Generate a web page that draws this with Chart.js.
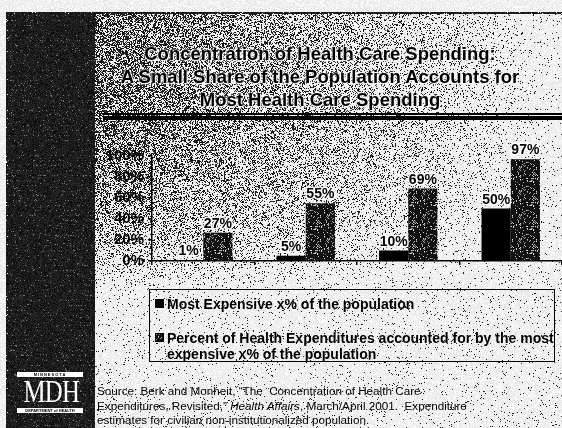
<!DOCTYPE html>
<html>
<head>
<meta charset="utf-8">
<script src="https://cdn.jsdelivr.net/npm/chart.js@4.4.1/dist/chart.umd.min.js"></script>
<style>
  html, body { margin: 0; padding: 0; background: #fff; }
  #slide { position: relative; width: 562px; height: 428px; overflow: hidden;
           font-family: Arial, "Liberation Sans", sans-serif; color: #000; }
  #bg { position: absolute; left: 0; top: 0; }
  #title { position: absolute; left: 105px; width: 430px; top: 42px; text-align: center;
           font-weight: bold; font-size: 18.5px; line-height: 23px;
           text-shadow: 0 0 2px #fff, 0 0 3px #fff, 1px 1px 1px #fff; }
  .rule { position: absolute; left: 103px; right: 0; background: #000; }
  #chartBox { position: absolute; left: 92px; top: 140px; }
  #legend { position: absolute; left: 149px; top: 289px; width: 404px; height: 71px;
            border: 1px solid #000; }
  .item { position: absolute; left: 17px; width: 392px; font-weight: bold; font-size: 14px; line-height: 16px; }
  .swatch { position: absolute; left: -12px; top: 3px; width: 9px; height: 9px; }
  #source { position: absolute; left: 97px; top: 384px; font-size: 11.7px; line-height: 14.5px; }
  #logo { position: absolute; left: 17px; top: 372px; width: 66px; color: #fff; text-align: center; }
  .band { background: #fff; color: #000; font-size: 4px; font-weight: bold; line-height: 5px;
          letter-spacing: 1px; height: 5px; overflow: hidden; }
  #mdh { font-family: "Liberation Serif", "DejaVu Serif", serif; font-size: 31px; line-height: 28px;
         letter-spacing: -1px; transform: scaleX(0.8); margin: 1px 0 2px; }
</style>
</head>
<body>
<div id="slide">
  <canvas id="bg" width="562" height="428"></canvas>
  <div id="title">Concentration of Health Care Spending:<br>A Small Share of the Population Accounts for<br>Most Health Care Spending</div>
  <div class="rule" style="top:113px;height:1.5px"></div>
  <div class="rule" style="top:116px;height:4px"></div>
  <div id="chartBox"><canvas id="spendChart" width="470" height="134"></canvas></div>
  <div id="legend"></div>
  <div id="source">Source: Berk and Monheit, “The&nbsp; Concentration of Health Care<br>Expenditures, Revisited,” <i>Health Affairs</i>, March/April 2001.&nbsp; Expenditure<br>estimates for civilian non-institutionalized population.</div>
  <div id="logo">
    <div class="band">MINNESOTA</div>
    <div id="mdh">MDH</div>
    <div class="band" style="letter-spacing:0">DEPARTMENT of HEALTH</div>
  </div>
</div>
<script>
// population groups, ranked by spending
const groups = ['Top 1%', 'Top 5%', 'Top 10%', 'Top 50%'];
// share of the population in each group (%)
const populationShare = [1, 5, 10, 50];
// share of all health spending accounted for by that group (%)
const spendingShare = [27, 55, 69, 97];
const seriesNames = [
  'Most Expensive x% of the population',
  'Percent of Health Expenditures accounted for by the most expensive x% of the population'
];
const yMax = 100;
const yStep = 20;

// tiny xorshift so the photocopy grain is the same on every load
let seed = 2463534242;
function grain() {
  seed ^= seed << 13; seed ^= seed >>> 17; seed ^= seed << 5;
  return (seed >>> 0) / 4294967296;
}

// slide background: dark side bar, grey wash from the top left, speckle everywhere
(function drawBackground() {
  const g = document.getElementById('bg').getContext('2d');
  const W = 562, H = 428;
  const img = g.createImageData(W, H);
  for (let y = 0; y < H; y++) {
    for (let x = 0; x < W; x++) {
      let d;
      let lightMax = 255;
      if (y < 12 || x < 6) d = 0;
      else if (y < 14 || x < 8) d = 0.97;
      else if (x < 95) {
        // side bar: near black with faint horizontal streaks
        d = ((y * 7) % 5) === 0 ? 0.9 : 0.98;
        lightMax = 130;
      } else {
        const u = (x - 95) / 470, v = Math.min(1, (y - 12) / 285);
        d = Math.max(0.035, 0.6 * Math.max(0, 1 - u) * (1 - v * v * v));
      }
      const dark = grain() < d;
      const c = dark ? 8 + grain() * 40 : lightMax - 30 + grain() * 30;
      const i = (y * W + x) * 4;
      img.data[i] = img.data[i + 1] = img.data[i + 2] = c;
      img.data[i + 3] = 255;
    }
  }
  g.putImageData(img, 0, 0);
})();

// speckled fill for the spending bars
function speckle(size) {
  const p = document.createElement('canvas');
  p.width = p.height = size;
  const c = p.getContext('2d');
  c.fillStyle = '#111';
  c.fillRect(0, 0, size, size);
  for (let y = 0; y < size; y++) {
    for (let x = 0; x < size; x++) {
      if (grain() < 0.14) {
        const v = Math.round(120 + grain() * 110);
        c.fillStyle = 'rgb(' + v + ',' + v + ',' + v + ')';
        c.fillRect(x, y, 1, 1);
      }
    }
  }
  return p;
}
const speckleTile = speckle(24);
const ctx = document.getElementById('spendChart').getContext('2d');
const spendFill = ctx.createPattern(speckleTile, 'repeat');

const FONT = 'Arial, "Liberation Sans", sans-serif';

// percent label above each bar
const valueLabels = {
  id: 'valueLabels',
  afterDatasetsDraw(chart) {
    const c = chart.ctx;
    c.save();
    c.font = 'bold 14px ' + FONT;
    c.textAlign = 'center';
    c.textBaseline = 'alphabetic';
    c.lineJoin = 'round';
    chart.data.datasets.forEach((ds, i) => {
      chart.getDatasetMeta(i).data.forEach((bar, j) => {
        const txt = ds.data[j] + '%';
        c.strokeStyle = 'rgba(255,255,255,0.9)';
        c.lineWidth = 3;
        c.strokeText(txt, bar.x, bar.y - 5);
        c.fillStyle = '#000';
        c.fillText(txt, bar.x, bar.y - 5);
      });
    });
    c.restore();
  }
};

const chart = new Chart(ctx, {
  type: 'bar',
  data: {
    labels: groups,
    datasets: [
      { label: seriesNames[0], data: populationShare, backgroundColor: '#000',
        categoryPercentage: 0.57, barPercentage: 1 },
      { label: seriesNames[1], data: spendingShare, backgroundColor: spendFill,
        categoryPercentage: 0.57, barPercentage: 1 }
    ]
  },
  options: {
    responsive: false,
    animation: false,
    devicePixelRatio: 1,
    layout: { padding: { top: 16, right: 0, bottom: 0, left: 0 } },
    plugins: { legend: { display: false }, tooltip: { enabled: false } },
    scales: {
      x: {
        ticks: { display: false },
        grid: { drawOnChartArea: false, tickLength: 4, color: '#000', lineWidth: 1.5 },
        border: { color: '#000', width: 1.5 },
        afterFit(s) { s.height = 6; }
      },
      y: {
        min: 0,
        max: yMax,
        ticks: { stepSize: yStep, callback: v => v + '%', color: '#000', padding: 4,
                 font: { family: FONT, size: 15, weight: 'bold' } },
        grid: { drawOnChartArea: false, tickLength: 4, color: '#000', lineWidth: 1.5 },
        border: { color: '#000', width: 1.5 },
        afterFit(s) { s.width = 60; }
      }
    }
  },
  plugins: [valueLabels]
});

// legend box under the chart, built from the datasets
const legend = document.getElementById('legend');
const itemTops = [6, 40];
chart.data.datasets.forEach((ds, i) => {
  const item = document.createElement('div');
  item.className = 'item';
  item.style.top = itemTops[i] + 'px';
  const sw = document.createElement('canvas');
  sw.className = 'swatch';
  sw.width = sw.height = 9;
  const sc = sw.getContext('2d');
  if (i === 0) {
    sc.fillStyle = '#000';
    sc.fillRect(0, 0, 9, 9);
  } else {
    sc.fillStyle = sc.createPattern(speckleTile, 'repeat');
    sc.fillRect(0, 0, 9, 9);
    sc.strokeStyle = '#000';
    sc.strokeRect(0.5, 0.5, 8, 8);
  }
  item.appendChild(sw);
  item.appendChild(document.createTextNode(ds.label));
  legend.appendChild(item);
});
</script>
</body>
</html>
